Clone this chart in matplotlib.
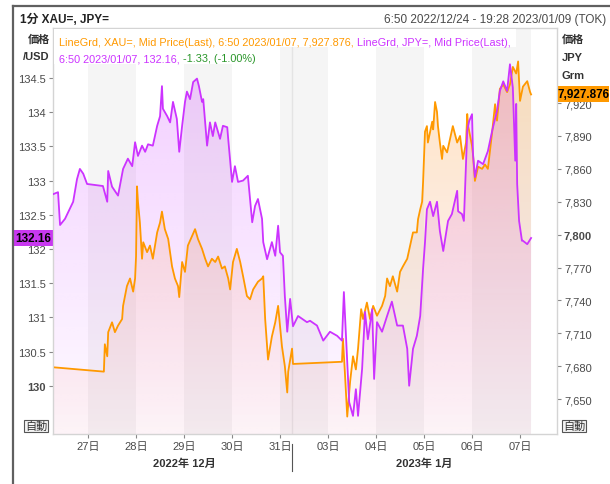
import matplotlib
matplotlib.use("Agg")
import matplotlib.pyplot as plt
import matplotlib.colors as mcolors
import matplotlib.transforms as mtransforms
from matplotlib.patches import Rectangle
from matplotlib.lines import Line2D
from matplotlib.text import Annotation
from matplotlib import font_manager
import numpy as np

names = {f.name for f in font_manager.fontManager.ttflist}
narrow = 'Liberation Sans Narrow' if 'Liberation Sans Narrow' in names else 'Liberation Sans'
plt.rcParams['font.family'] = [narrow, 'Noto Sans CJK JP', 'DejaVu Sans']

purple = '#cc33ff'
orange = '#ff9900'
green = '#2a962a'
grey_txt = '#4a4a4a'

# JPY= (left axis), time in trading-day units (27日 = 1)
jpy_t = [0.27, 0.375, 0.417, 0.52, 0.69, 0.77, 0.83, 0.90, 0.98, 1.31,
         1.40, 1.42, 1.50, 1.625, 1.73, 1.83, 1.92, 1.98, 2.04, 2.125,
         2.19, 2.25, 2.35, 2.44, 2.50, 2.54, 2.56, 2.65, 2.71, 2.77,
         2.85, 2.90, 2.96, 3.02, 3.06, 3.125, 3.19, 3.27, 3.31, 3.375,
         3.40, 3.48, 3.54, 3.60, 3.65, 3.75, 3.81, 3.90, 3.92, 4.00,
         4.06, 4.125, 4.23, 4.33, 4.375, 4.42, 4.48, 4.54, 4.625, 4.65,
         4.73, 4.83, 4.90, 4.96, 5.00, 5.06, 5.10, 5.15, 5.21, 5.27,
         5.375, 5.56, 5.625, 5.77, 5.90, 6.04, 6.19, 6.29, 6.33, 6.40,
         6.44, 6.52, 6.58, 6.625, 6.71, 6.77, 6.83, 6.92, 6.96, 7.02,
         7.125, 7.23, 7.33, 7.44, 7.56, 7.65, 7.69, 7.77, 7.85, 7.92,
         7.98, 8.02, 8.06, 8.125, 8.19, 8.27, 8.33, 8.40, 8.50, 8.58,
         8.69, 8.71, 8.79, 8.83, 8.90, 8.94, 9.00, 9.02, 9.06, 9.125,
         9.23, 9.33, 9.42, 9.52, 9.58, 9.65, 9.73, 9.79, 9.85, 9.90,
         9.92, 9.94, 9.98, 10.04, 10.06, 10.15, 10.23]
jpy_v = [132.80, 132.83, 132.35, 132.44, 132.69, 133.02, 133.17, 133.10, 132.95, 132.92,
         132.69, 133.14, 132.91, 132.78, 133.17, 133.32, 133.21, 133.56, 133.36, 133.51,
         133.42, 133.53, 133.51, 133.80, 133.94, 134.38, 134.05, 133.94, 133.85, 134.15,
         133.90, 133.42, 133.80, 134.15, 134.30, 134.19, 134.44, 134.49, 134.38, 134.15,
         134.19, 133.51, 133.85, 133.65, 133.85, 133.61, 133.80, 133.78, 133.61, 132.98,
         133.21, 132.98, 133.00, 133.07, 132.73, 132.39, 132.63, 132.73, 132.44, 132.10,
         131.85, 132.10, 131.90, 132.34, 131.95, 131.90, 131.31, 130.79, 131.27, 130.87,
         131.02, 130.93, 130.95, 130.88, 130.66, 130.79, 130.73, 130.66, 131.37, 130.35,
         129.76, 129.56, 129.95, 129.56, 130.25, 131.08, 130.68, 131.12, 130.10, 130.93,
         130.79, 131.02, 131.23, 130.88, 130.88, 130.54, 130.00, 130.54, 130.73, 131.02,
         131.71, 132.10, 132.58, 132.69, 132.48, 132.69, 132.26, 131.97, 132.41, 132.51,
         132.85, 132.55, 132.51, 132.41, 133.73, 133.87, 133.97, 133.39, 133.05, 133.29,
         133.24, 133.43, 133.73, 134.02, 134.31, 134.45, 134.31, 134.70, 134.36, 133.29,
         134.12, 132.95, 132.41, 132.12, 132.12, 132.07, 132.16]

# XAU= in JPY/gram (right axis)
xau_t = [0.27, 1.33, 1.35, 1.40, 1.42, 1.50, 1.56, 1.625, 1.71, 1.73,
         1.81, 1.875, 1.94, 1.98, 2.00, 2.02, 2.04, 2.08, 2.125, 2.15,
         2.23, 2.29, 2.35, 2.44, 2.50, 2.54, 2.60, 2.67, 2.75, 2.81,
         2.875, 2.90, 2.96, 3.02, 3.08, 3.17, 3.23, 3.29, 3.375, 3.44,
         3.50, 3.58, 3.65, 3.71, 3.79, 3.85, 3.92, 3.96, 4.02, 4.10,
         4.17, 4.23, 4.31, 4.375, 4.44, 4.54, 4.625, 4.65, 4.69, 4.73,
         4.75, 4.83, 4.90, 4.96, 5.04, 5.10, 5.15, 5.17, 5.25, 5.27,
         6.29, 6.31, 6.35, 6.40, 6.46, 6.52, 6.58, 6.625, 6.69, 6.73,
         6.81, 6.875, 6.94, 7.02, 7.125, 7.19, 7.23, 7.29, 7.35, 7.44,
         7.50, 7.56, 7.65, 7.71, 7.77, 7.85, 7.875, 7.92, 7.96, 7.98,
         8.02, 8.06, 8.08, 8.17, 8.19, 8.23, 8.27, 8.29, 8.33, 8.375,
         8.40, 8.48, 8.54, 8.60, 8.69, 8.75, 8.81, 8.875, 8.90, 8.92,
         9.00, 9.02, 9.06, 9.125, 9.21, 9.27, 9.33, 9.42, 9.48, 9.52,
         9.58, 9.65, 9.73, 9.79, 9.85, 9.92, 9.96, 10.00, 10.06, 10.15,
         10.21, 10.23]
xau_v = [7679, 7675, 7700, 7689, 7711, 7720, 7711, 7717, 7723, 7735,
         7753, 7760, 7748, 7760, 7780, 7844, 7830, 7811, 7778, 7793,
         7784, 7790, 7778, 7802, 7811, 7821, 7805, 7796, 7771, 7760,
         7753, 7743, 7775, 7766, 7790, 7799, 7805, 7796, 7787, 7778,
         7771, 7778, 7775, 7780, 7769, 7771, 7760, 7750, 7775, 7787,
         7775, 7762, 7744, 7741, 7750, 7757, 7760, 7762, 7723, 7698,
         7686, 7707, 7720, 7735, 7698, 7680, 7656, 7675, 7696, 7682,
         7684, 7705, 7675, 7634, 7666, 7689, 7677, 7696, 7732, 7723,
         7738, 7723, 7735, 7726, 7735, 7744, 7760, 7753, 7762, 7748,
         7766, 7771, 7778, 7790, 7802, 7802, 7814, 7823, 7830, 7848,
         7894, 7899, 7884, 7903, 7896, 7921, 7912, 7899, 7884, 7869,
         7881, 7875, 7887, 7899, 7884, 7890, 7869, 7884, 7910, 7899,
         7881, 7873, 7849, 7862, 7860, 7864, 7860, 7894, 7919, 7904,
         7933, 7937, 7930, 7937, 7953, 7947, 7958, 7922, 7935, 7940,
         7930, 7927.876]

day_ticks = [1, 2, 3, 4, 5, 6, 7, 8, 9, 10]
day_labels = ['27日', '28日', '29日', '30日', '31日', '03日', '04日', '05日', '06日', '07日']
month_pos = [3.0, 8.0]
month_labels = ['2022年 12月', '2023年 1月']
month_break = 5.25
grey_days = [(1, 2), (3, 4), (5, 6), (7, 8), (9, 10.23)]

jpy_ticks = [130, 130.5, 131, 131.5, 132, 132.5, 133, 133.5, 134, 134.5]
xau_ticks = [7650, 7680, 7710, 7740, 7770, 7800, 7830, 7860, 7890, 7920]

W, H = 610, 485
fig = plt.figure(figsize=(W / 100, H / 100), dpi=100, facecolor='white')


def fx(px):
    return px / W


def fy(py):
    return 1 - py / H


ax = fig.add_axes([fx(53), fy(435), fx(557) - fx(53), fy(29) - fy(435)])
ax2 = ax.twinx()
ax3 = ax.twinx()
xlim = (0.27, 10.77)
ylim_l = (129.295, 135.23)
ylim_r = (7618.1, 7988.5)


def grad_fill(axis, t, v, bottom, top, color, a_top, a_bot, z, color_bot=None):
    poly = axis.fill_between(t, v, bottom, facecolor='none', edgecolor='none', zorder=z)
    n = 256
    c_top = np.array(mcolors.to_rgb(color))
    c_bot = np.array(mcolors.to_rgb(color_bot or color))
    f = np.linspace(0, 1, n)[:, None]
    rgba = np.zeros((n, 1, 4))
    rgba[:, 0, :3] = c_bot * (1 - f) + c_top * f
    rgba[:, 0, 3] = (a_bot + (a_top - a_bot) * f)[:, 0]
    im = axis.imshow(rgba, extent=[t[0], t[-1], bottom, top], origin='lower',
                     aspect='auto', zorder=z, interpolation='bilinear')
    im.set_clip_path(poly.get_paths()[0], transform=axis.transData)


# background day bands
for a, b in grey_days:
    ax.axvspan(a, b, color='#f5f5f5', lw=0, zorder=0)
ax.axvline(month_break, color='#e4e4e4', lw=1, zorder=0.5)

grad_fill(ax, jpy_t, jpy_v, ylim_l[0], 134.8, purple, 0.24, 0.02, 1)
grad_fill(ax2, xau_t, xau_v, ylim_r[0], 7960, '#ffa020', 0.28, 0.06, 1, color_bot='#f08080')
ax2.plot(xau_t, xau_v, color=orange, lw=1.3, zorder=3)
ax3.plot(jpy_t, jpy_v, color=purple, lw=1.3, zorder=3)

for a in (ax, ax2, ax3):
    a.set_xlim(*xlim)
    for s in a.spines.values():
        s.set_color('#d4d4d4')
ax.set_ylim(*ylim_l)
ax3.set_ylim(*ylim_l)
ax2.set_ylim(*ylim_r)
ax3.set_yticks([])
ax3.tick_params(right=False, labelright=False)

ax.set_xticks(day_ticks)
ax.set_xticklabels(day_labels)
ax.tick_params(axis='x', length=3, color='#888888', labelsize=8, labelcolor=grey_txt, pad=2)
ax.set_yticks(jpy_ticks)
ax.set_yticklabels([('%g' % v) for v in jpy_ticks])
ax.tick_params(axis='y', length=3, color='#888888', labelsize=8, labelcolor=grey_txt, pad=2)
ax2.set_yticks(xau_ticks)
ax2.set_yticklabels(['{:,}'.format(v) for v in xau_ticks])
ax2.tick_params(axis='y', length=3, color='#888888', labelsize=8, labelcolor=grey_txt, pad=2)
for lbl in ax.get_yticklabels():
    if lbl.get_text() == '130':
        lbl.set_fontweight('bold')
for lbl in ax2.get_yticklabels():
    if lbl.get_text() == '7,800':
        lbl.set_fontweight('bold')

# month labels and separator
for p, m in zip(month_pos, month_labels):
    ax.text(p, -0.07, m, transform=ax.get_xaxis_transform(), ha='center', va='center',
            fontsize=8, fontweight='bold', color='#333333')
ax.plot([month_break, month_break], [-0.025, -0.09], transform=ax.get_xaxis_transform(),
        color='#555555', lw=0.8, clip_on=False)

# last value boxes
bl = mtransforms.blended_transform_factory(ax.transAxes, ax.transData)
ax.add_patch(Rectangle((-40 / 504, jpy_v[-1] - 0.11), 40 / 504, 0.22, transform=bl,
                       facecolor='#c838f0', edgecolor='none', clip_on=False, zorder=5))
ax.text(-20 / 504, jpy_v[-1], '132.16', transform=bl, ha='center', va='center',
        fontsize=8.5, fontweight='bold', color='black', zorder=6)
br = mtransforms.blended_transform_factory(ax2.transAxes, ax2.transData)
ax2.add_patch(Rectangle((1, xau_v[-1] - 7.3), 52 / 504, 14.6, transform=br,
                        facecolor=orange, edgecolor='none', clip_on=False, zorder=5))
ax2.text(1 + 26 / 504, xau_v[-1], '7,927.876', transform=br, ha='center', va='center',
         fontsize=8.5, fontweight='bold', color='black', zorder=6)

# auto boxes
for x in (36, 574):
    fig.text(fx(x), fy(427), '自動', ha='center', va='center', fontsize=8, color='#333333',
             bbox=dict(boxstyle='square,pad=0.1', facecolor='#f4f4f4', edgecolor='#555555', lw=0.8))

# axis captions
fig.text(fx(50), fy(40), '価格', ha='right', va='center', fontsize=8, fontweight='bold', color='#333333')
fig.text(fx(50), fy(57), '/USD', ha='right', va='center', fontsize=8, fontweight='bold', color='#333333')
fig.text(fx(562), fy(40), '価格', ha='left', va='center', fontsize=8, fontweight='bold', color='#333333')
fig.text(fx(562), fy(58), 'JPY', ha='left', va='center', fontsize=8, fontweight='bold', color='#333333')
fig.text(fx(562), fy(76), 'Grm', ha='left', va='center', fontsize=8, fontweight='bold', color='#333333')

# header
fig.text(fx(20), fy(20), '1分 XAU=, JPY=', ha='left', va='center', fontsize=8.5,
         fontweight='bold', color='#222222')
fig.text(fx(606), fy(20), '6:50 2022/12/24 - 19:28 2023/01/09 (TOK)', ha='right', va='center',
         fontsize=8.5, color=grey_txt)


def chain(x, y, parts, size=7.8):
    prev = None
    for s, c in parts:
        if prev is None:
            prev = fig.text(x, y, s, color=c, fontsize=size, ha='left', va='bottom', zorder=3)
        else:
            prev = fig.add_artist(Annotation(s, xy=(1, 0), xycoords=prev, color=c, fontsize=size,
                                             ha='left', va='bottom', annotation_clip=False))
            prev.set_zorder(3)
    return prev


last1 = chain(fx(59), fy(48), [('LineGrd, XAU=, Mid Price(Last), 6:50 2023/01/07, 7,927.876, ', orange),
                               ('LineGrd, JPY=, Mid Price(Last),', purple)])
last2 = chain(fx(59), fy(64), [('6:50 2023/01/07, 132.16, ', purple), ('-1.33, (-1.00%)', green)])

# white backing behind the legend lines
fig.canvas.draw()
inv = fig.transFigure.inverted()
for last, top, bot in ((last1, 30, 48), (last2, 48, 65)):
    x1 = inv.transform(last.get_window_extent().p1)[0] + fx(5)
    fig.patches.append(Rectangle((fx(54), fy(bot)), x1 - fx(54), fy(top) - fy(bot),
                                 transform=fig.transFigure, facecolor='white',
                                 edgecolor='none', zorder=1))

# outer frame
fig.add_artist(Line2D([fx(13), fx(13)], [fy(7), 0], color='#606060', lw=1.6))
fig.add_artist(Line2D([fx(13), 1], [fy(7), fy(7)], color='#606060', lw=1.6))

fig.savefig('out.png', dpi=100, facecolor='white')
